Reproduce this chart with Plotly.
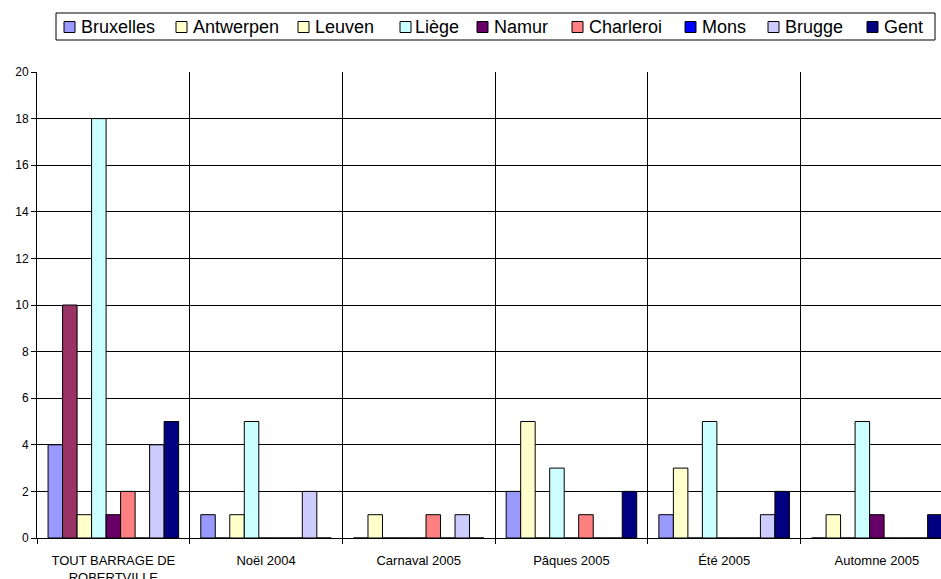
import plotly.graph_objects as go

categories = ["TOUT BARRAGE DE<br>ROBERTVILLE", "Noël 2004", "Carnaval 2005",
              "Pâques 2005", "Été 2005", "Automne 2005"]
series_names = ["Bruxelles", "Antwerpen", "Leuven", "Liège", "Namur",
                "Charleroi", "Mons", "Brugge", "Gent"]
bruxelles = [4, 1, 0, 2, 1, 0]
antwerpen = [10, 0, 1, 5, 3, 1]
leuven = [1, 1, 0, 0, 0, 0]
liege = [18, 5, 0, 3, 5, 5]
namur = [1, 0, 0, 0, 0, 1]
charleroi = [2, 0, 1, 1, 0, 0]
mons = [0, 0, 0, 0, 0, 0]
brugge = [4, 2, 1, 0, 1, 0]
gent = [5, 0, 0, 2, 2, 1]
y_ticks = [0, 2, 4, 6, 8, 10, 12, 14, 16, 18, 20]

series_values = [bruxelles, antwerpen, leuven, liege, namur, charleroi, mons, brugge, gent]
series_colors = ["#9999FF", "#FFFFCC", "#FFFFCC", "#CCFFFF", "#660066",
                 "#FF8080", "#0000FF", "#CCCCFF", "#000080"]

W, H = 941, 579
L, R, T, B = 37, 0, 72, 41
PW, PH = W - L - R, H - T - B
CAT_PX = 152.7
FONT = "Liberation Sans, Arial, sans-serif"


def px_x(px):
    return (px - L) / PW


def px_y(py):
    return 1 - (py - T) / PH


fig = go.Figure()
for name, vals, col in zip(series_names, series_values, series_colors):
    colors = [col] * len(vals)
    if name == "Antwerpen":
        colors[0] = "#993366"
    fig.add_trace(go.Bar(
        x=categories, y=vals, name=name,
        marker=dict(color=colors, line=dict(color="#000000", width=1)),
        showlegend=False, hoverinfo="x+y+name",
    ))

# manual legend (Excel style)
shapes = [dict(type="rect", xref="paper", yref="paper",
               x0=px_x(56), x1=px_x(935), y0=px_y(40), y1=px_y(13),
               line=dict(color="#000000", width=1), fillcolor="rgba(0,0,0,0)")]
annotations = []
box_x = [64, 176, 298, 400, 477, 572, 685, 768, 867]
text_x = [79, 191, 313, 413, 492, 587, 700, 783, 882]
for bx, tx, name, col in zip(box_x, text_x, series_names, series_colors):
    shapes.append(dict(type="rect", xref="paper", yref="paper",
                       x0=px_x(bx), x1=px_x(bx + 11), y0=px_y(32.5), y1=px_y(21.5),
                       line=dict(color="#000000", width=1), fillcolor=col))
    annotations.append(dict(text=name, xref="paper", yref="paper",
                            x=px_x(tx), y=px_y(26.5), xanchor="left", yanchor="middle",
                            showarrow=False, font=dict(family=FONT, size=18, color="#000000")))

fig.update_layout(
    width=W, height=H,
    margin=dict(l=L, r=R, t=T, b=B, pad=0, autoexpand=False),
    paper_bgcolor="white", plot_bgcolor="white",
    barmode="group", bargap=0.145, bargroupgap=0,
    font=dict(family=FONT, size=12, color="#000000"),
    shapes=shapes, annotations=annotations,
    showlegend=False,
    xaxis=dict(
        type="category", range=[-0.5, -0.5 + PW / CAT_PX],
        showgrid=True, gridcolor="#000000", gridwidth=1,
        tickson="boundaries", ticks="outside", ticklen=5, tickcolor="#000000",
        showline=True, linecolor="#000000", linewidth=1,
        tickfont=dict(family=FONT, size=13, color="#000000"),
        ticklabelstandoff=10, automargin=False,
        zeroline=False,
    ),
    yaxis=dict(
        range=[0, 20], tickvals=y_ticks, showgrid=True, gridcolor="#000000", gridwidth=1,
        ticks="outside", ticklen=5, tickcolor="#000000",
        showline=True, linecolor="#000000", linewidth=1,
        tickfont=dict(family=FONT, size=12, color="#000000"),
        automargin=False,
        zeroline=False,
    ),
)

fig.write_html("out.html", config={"displayModeBar": False},
               post_script="document.body.style.margin='0px';")
